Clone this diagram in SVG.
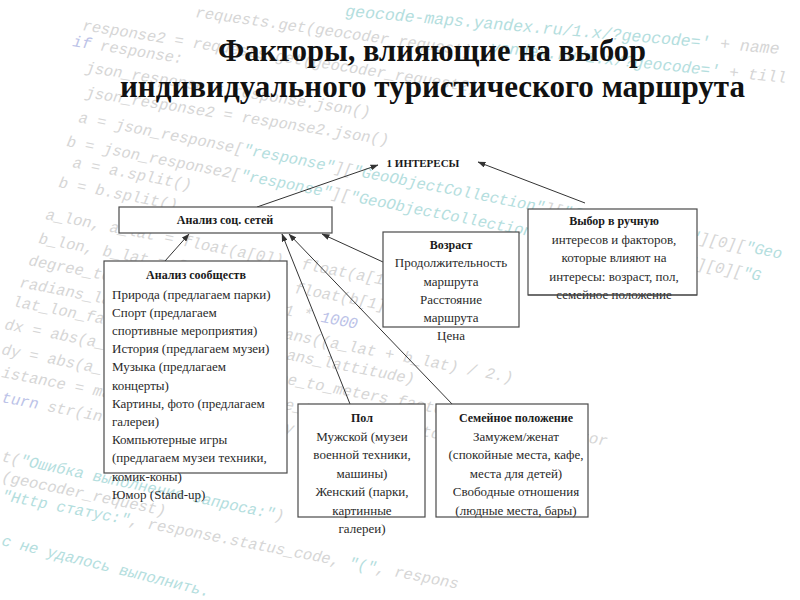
<svg xmlns="http://www.w3.org/2000/svg" width="800" height="600" viewBox="0 0 800 600">
<style>
.code{font-family:"Liberation Mono","DejaVu Sans Mono",monospace;font-size:15.5px;font-style:italic;fill:#d6d6d6}
.s{fill:#b4dede}
.k{fill:#bcc3e8}
.title{font-family:"Liberation Serif","Times New Roman",serif;font-weight:bold;font-size:31px;fill:#111}
.box{fill:#fff;stroke:#4a4a4a;stroke-width:1.2}
.h{font-family:"Liberation Serif","Times New Roman",serif;font-weight:bold;font-size:12px;fill:#1a1a1a}
.t{font-family:"Liberation Serif","Times New Roman",serif;font-size:13px;fill:#2a2a2a}
.c{text-anchor:middle}
.conn line{stroke:#333;stroke-width:1}
</style>
<defs>
<marker id="ah" markerWidth="8" markerHeight="6" refX="7.5" refY="3" orient="auto" markerUnits="userSpaceOnUse">
<path d="M0,0 L8,3 L0,6 Z" fill="#333"/>
</marker>
</defs>
<rect width="800" height="600" fill="#fff"/>
<g id="background-code" class="code">
<text transform="translate(345,16) rotate(5)" style="font-size:16.5px"><tspan class="s">geocode-maps.yandex.ru/1.x/?geocode='</tspan> + name</text>
<text transform="translate(195,17) rotate(8)">requests.get(geocoder_request)</text>
<text transform="translate(490,52) rotate(6)" style="font-size:16px"><tspan class="s">yandex.ru/1.x/?geocode='</tspan> + till</text>
<text transform="translate(82,30) rotate(9)">response2 = requests.get(geocoder_request2)</text>
<text transform="translate(72,46) rotate(9)"><tspan class="k">if</tspan> response:</text>
<text transform="translate(85,72) rotate(9)">json_response = response.json()</text>
<text transform="translate(85,97) rotate(9)">json_response2 = response2.json()</text>
<text transform="translate(78,122) rotate(11)">a = json_response[<tspan class="s">"response"</tspan>][<tspan class="s">"GeoObjectCollection"</tspan>][<tspan class="s">"featureMember"</tspan>][0][<tspan class="s">"Geo</tspan></text>
<text transform="translate(66,146) rotate(11)">b = json_response2[<tspan class="s">"response"</tspan>][<tspan class="s">"GeoObjectCollection"</tspan>][<tspan class="s">"featureMember"</tspan>][0][<tspan class="s">"G</tspan></text>
<text transform="translate(72,167) rotate(11)">a = a.split()</text>
<text transform="translate(58,187) rotate(11)">b = b.split()</text>
<text transform="translate(45,219) rotate(11)">a_lon, a_lat = float(a[0]), float(a[1])</text>
<text transform="translate(38,243) rotate(11)">b_lon, b_lat = float(b[0]), float(b[1])</text>
<text transform="translate(28,265) rotate(11)">degree_to_meters_factor = 111 * <tspan class="k">1000</tspan></text>
<text transform="translate(19,287) rotate(11)">radians_lattitude = math.radians((a_lat + b_lat) / 2.)</text>
<text transform="translate(12,306) rotate(11)">lat_lon_factor = math.cos(radians_lattitude)</text>
<text transform="translate(4,329) rotate(11)">dx = abs(a_lon - b_lon) * degree_to_meters_factor * lat_lon_factor</text>
<text transform="translate(1,354) rotate(11)">dy = abs(a_lat - b_lat) * degree_to_meters_factor</text>
<text transform="translate(1,377) rotate(11)">istance = math.sqrt(dx * dx + dy * dy)</text>
<text transform="translate(1,402) rotate(11)"><tspan class="k">turn</tspan> str(int(distance))</text>
<text transform="translate(1,461) rotate(12)">t(<tspan class="s">"Ошибка выполнения запроса:"</tspan>)</text>
<text transform="translate(1,481) rotate(12)">(geocoder_request)</text>
<text transform="translate(1,500) rotate(11)"><tspan class="s">"Http статус:"</tspan>, response.status_code, <tspan class="s">"("</tspan>, respons</text>
<text transform="translate(1,545) rotate(14)" class="s">с не удалось выполнить.</text>
</g>
<g id="title">
<text class="title" x="218" y="61" textLength="428" lengthAdjust="spacingAndGlyphs">Факторы, влияющие на выбор</text>
<text class="title" x="120" y="97" textLength="625" lengthAdjust="spacingAndGlyphs">индивидуального туристического маршрута</text>
</g>
<g id="connectors" class="conn">
<line x1="257" y1="207" x2="378" y2="165" marker-end="url(#ah)"/>
<line x1="585" y1="203" x2="478" y2="162" marker-end="url(#ah)"/>
<line x1="165" y1="261" x2="189" y2="234" marker-end="url(#ah)"/>
<line x1="350" y1="404" x2="282" y2="234" marker-end="url(#ah)"/>
<line x1="453" y1="405" x2="289" y2="234" marker-end="url(#ah)"/>
<line x1="383" y1="262" x2="322" y2="234" marker-end="url(#ah)"/>
</g>
<g id="node-interests">
<text class="h c" x="423" y="167" style="font-size:11px">1 ИНТЕРЕСЫ</text>
</g>
<g id="node-social">
<rect class="box" x="119" y="207" width="213" height="26"/>
<text class="h c" x="225" y="224">Анализ соц. сетей</text>
</g>
<g id="node-communities">
<rect class="box" x="104" y="261" width="183" height="212"/>
<text class="h c" x="196" y="279">Анализ сообществ</text>
<text class="t" x="112" y="298.5">Природа (предлагаем парки)</text>
<text class="t" x="112" y="316.7">Спорт (предлагаем</text>
<text class="t" x="112" y="334.9">спортивные мероприятия)</text>
<text class="t" x="112" y="353.1">История (предлагаем музеи)</text>
<text class="t" x="112" y="371.3">Музыка (предлагаем</text>
<text class="t" x="112" y="389.5">концерты)</text>
<text class="t" x="112" y="407.7">Картины, фото (предлагаем</text>
<text class="t" x="112" y="425.9">галереи)</text>
<text class="t" x="112" y="444.1">Компьютерные игры</text>
<text class="t" x="112" y="462.3">(предлагаем музеи техники,</text>
<text class="t" x="112" y="480.5">комик-коны)</text>
<text class="t" x="112" y="498.7">Юмор (Stand-up)</text>
</g>
<g id="node-age">
<rect class="box" x="383" y="232" width="136" height="95"/>
<text class="h c" x="451" y="249">Возраст</text>
<text class="t c" x="451" y="267">Продолжительность</text>
<text class="t c" x="451" y="286">маршрута</text>
<text class="t c" x="451" y="304">Расстояние</text>
<text class="t c" x="451" y="322">маршрута</text>
<text class="t c" x="451" y="340">Цена</text>
</g>
<g id="node-manual">
<rect class="box" x="528" y="209" width="169" height="86"/>
<text class="h c" x="614" y="225">Выбор в ручную</text>
<text class="t c" x="614" y="244">интересов и факторов,</text>
<text class="t c" x="614" y="262">которые влияют на</text>
<text class="t c" x="614" y="281">интересы: возраст, пол,</text>
<text class="t c" x="614" y="299">семейное положение</text>
<line x1="528" y1="295" x2="697" y2="295" stroke="#4a4a4a" stroke-width="1.2"/>
</g>
<g id="node-gender">
<rect class="box" x="298" y="404" width="127" height="113"/>
<text class="h c" x="362" y="422">Пол</text>
<text class="t c" x="362" y="440.5">Мужской (музеи</text>
<text class="t c" x="362" y="459">военной техники,</text>
<text class="t c" x="362" y="477.5">машины)</text>
<text class="t c" x="362" y="496">Женский (парки,</text>
<text class="t c" x="362" y="514.5">картинные</text>
<text class="t c" x="362" y="533">галереи)</text>
</g>
<g id="node-family">
<rect class="box" x="436" y="404" width="152" height="113"/>
<text class="h c" x="516" y="422">Семейное положение</text>
<text class="t c" x="516" y="440.5">Замужем/женат</text>
<text class="t c" x="516" y="459">(спокойные места, кафе,</text>
<text class="t c" x="516" y="477.5">места для детей)</text>
<text class="t c" x="516" y="496">Свободные отношения</text>
<text class="t c" x="516" y="514.5">(людные места, бары)</text>
</g>
</svg>
